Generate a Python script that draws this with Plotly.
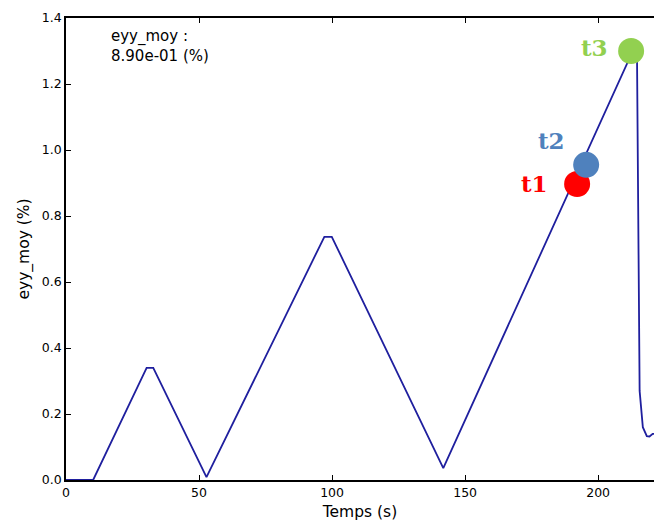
import plotly.graph_objects as go

# Curve data
temps = [0, 10.2, 30.3, 32.8, 52.8, 97.1, 99.9, 141.8, 213.6, 214.6, 215.6, 216.8, 218.3, 219.3, 220.5, 221.5]
eyy = [0.0, 0.0, 0.34, 0.34, 0.009, 0.737, 0.737, 0.036, 1.31, 1.30, 0.27, 0.16, 0.133, 0.132, 0.14, 0.14]

# Highlighted points
pt_names = ["t1", "t2", "t3"]
pt_t = [192.1, 195.5, 212.4]
pt_y = [0.897, 0.955, 1.30]
pt_colors = ["#ff0000", "#4f81bd", "#92d050"]

x_ticks = [0, 50, 100, 150, 200]
y_ticks = [0.0, 0.2, 0.4, 0.6, 0.8, 1.0, 1.2, 1.4]

fig = go.Figure()
fig.add_trace(go.Scatter(x=temps, y=eyy, mode="lines",
                         line=dict(color="#1f1f9e", width=1.8),
                         showlegend=False, hoverinfo="skip"))
label_shift = {"t1": (-27, 0), "t2": (-19, 24), "t3": (-21, 4)}
for name, t, y, c in zip(pt_names, pt_t, pt_y, pt_colors):
    fig.add_trace(go.Scatter(x=[t], y=[y], mode="markers",
                             marker=dict(color=c, size=26, line=dict(width=0)),
                             showlegend=False))
    dx, dy = label_shift[name]
    fig.add_annotation(x=t, y=y, text="<b>%s</b>" % name, showarrow=False,
                       xanchor="right", yanchor="middle", xshift=dx, yshift=dy,
                       font=dict(family="DejaVu Serif", size=23, color=c))

fig.add_annotation(x=0.073, y=1.38, xref="x domain", yref="y", xanchor="left", yanchor="top",
                   text="eyy_moy :<br>8.90e-01 (%)", showarrow=False, align="left",
                   font=dict(family="DejaVu Sans", size=15, color="black"))

fig.update_layout(
    width=654, height=521,
    margin=dict(l=66, r=0, t=18, b=41),
    paper_bgcolor="white", plot_bgcolor="white",
    font=dict(family="DejaVu Sans", size=12.5, color="black"),
    xaxis=dict(range=[0, 221], tickvals=x_ticks, ticktext=[str(v) for v in x_ticks],
               showgrid=False, zeroline=False, showline=True, linecolor="black", linewidth=1.6,
               mirror="allticks", ticks="inside", ticklen=5, tickcolor="black",
               title=dict(text="Temps (s)", font=dict(size=15.5), standoff=11)),
    yaxis=dict(range=[0, 1.4], tickvals=y_ticks, ticktext=["%.1f" % v for v in y_ticks],
               showgrid=False, zeroline=False, showline=True, linecolor="black", linewidth=1.6,
               mirror=False, ticks="inside", ticklen=5, tickcolor="black",
               title=dict(text="eyy_moy (%)", font=dict(size=15.5), standoff=8)),
)

fig.write_html("out.html", config={"displayModeBar": False},
               post_script="document.body.style.margin='0';document.body.style.overflow='hidden';")
